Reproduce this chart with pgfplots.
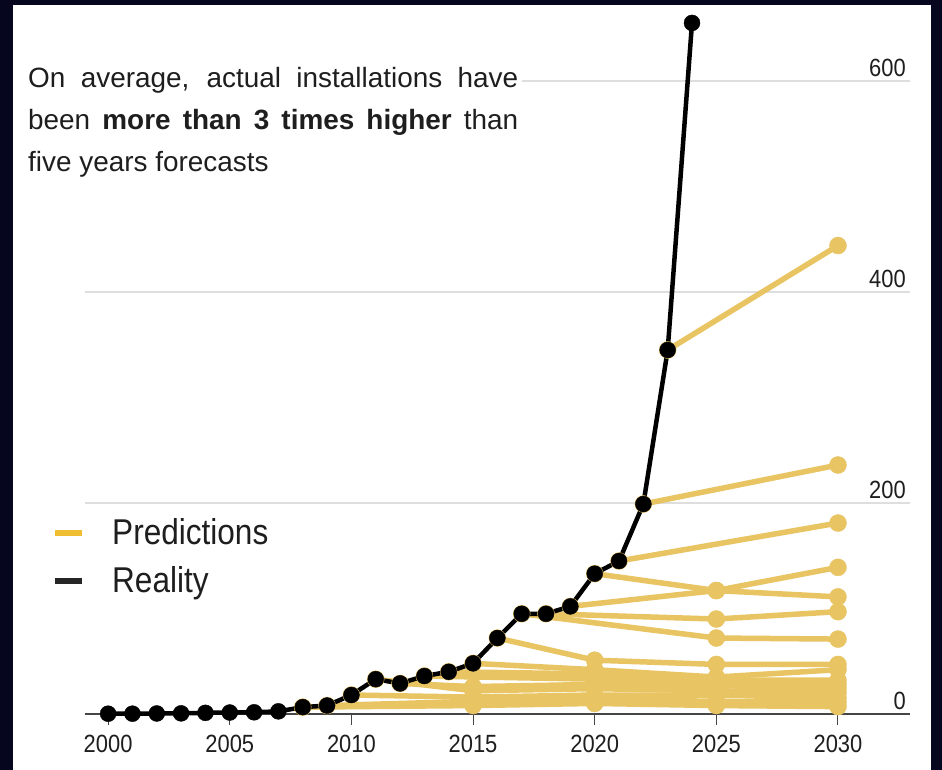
\documentclass[border=0pt]{standalone}
\usepackage{pgfplots}
\pgfplotsset{compat=1.18}
\usepackage{fontspec}
\setmainfont{Liberation Sans}
\newfontfamily\narrowsans[FakeStretch=0.88]{Liberation Sans}
\definecolor{frame}{RGB}{6,6,30}
\definecolor{predyellow}{RGB}{232,196,98}
\definecolor{legyellow}{RGB}{240,190,50}
\definecolor{axgray}{RGB}{70,70,70}
\definecolor{gridgray}{RGB}{222,222,222}
\definecolor{txt}{RGB}{30,30,30}
\begin{document}
\begin{tikzpicture}
% dark frame round the white chart
\useasboundingbox (0,0) rectangle (942bp,770bp);
\fill[frame] (0,0) rectangle (942bp,770bp);
\fill[white] (13bp,0) rectangle (931bp,765bp);
\begin{axis}[
  scale only axis,
  width=825bp, height=709bp,
  at={(85bp,56bp)}, anchor=south west,
  xmin=1999.05, xmax=2032.96,
  ymin=0, ymax=672,
  clip=false,
  axis x line*=bottom, axis y line*=right,
  separate axis lines,
  x axis line style={draw=axgray, line width=1.2bp},
  y axis line style={draw=none},
  xtick={2000,2005,...,2030},
  xtick align=outside,
  major tick length=11bp,
  xtick style={draw=axgray, line width=1bp},
  ytick={0,200,400,600},
  ytick style={draw=none},
  ymajorgrids,
  grid style={draw=gridgray, line width=1.2bp},
  /pgf/number format/assume math mode=true,
  /pgf/number format/1000 sep={},
  xticklabel style={font=\fontsize{25}{26}\narrowsans, text=txt, inner sep=0pt, yshift=-10bp},
  yticklabel style={font=\fontsize{25}{26}\narrowsans, text=txt, anchor=south east, inner sep=0pt, xshift=-4bp, yshift=4bp},
  legend style={at={(-0.0400,0.2764)}, anchor=north west, draw=none, fill=none,
    inner sep=0pt, font=\fontsize{36}{40}\narrowsans, text=txt, row sep=14bp,
    nodes={inner sep=0pt, text height=26bp, text depth=8bp},
    cells={anchor=west},
    /tikz/every odd column/.append style={column sep=27bp}},
  legend image code/.code={\draw[#1, line width=6bp] (0bp,2bp) -- (27bp,2bp);},
  pred/.style={color=predyellow, line width=5.5bp, mark=*, mark size=8.5bp,
    mark options={line width=0.4bp}, forget plot},
]
\addlegendimage{color=legyellow}
\addlegendentry{Predictions}
\addlegendimage{color=black!85}
\addlegendentry{Reality}

% forecasts, each from the actual value of its year
\addplot[pred] coordinates {(2023,345) (2030,444)};
\addplot[pred] coordinates {(2022,199) (2030,236)};
\addplot[pred] coordinates {(2021,145) (2030,181)};
\addplot[pred] coordinates {(2020,133) (2025,117) (2030,111)};
\addplot[pred] coordinates {(2019,102) (2025,117) (2030,139)};
\addplot[pred] coordinates {(2018,95) (2025,90) (2030,97)};
\addplot[pred] coordinates {(2017,95) (2025,72) (2030,71)};
\addplot[pred] coordinates {(2016,72) (2020,51) (2025,47) (2030,47)};
\addplot[pred] coordinates {(2015,48) (2020,42) (2025,35) (2030,42)};
\addplot[pred] coordinates {(2014,40) (2020,38) (2025,32) (2030,32)};
\addplot[pred] coordinates {(2013,36) (2020,33) (2025,30) (2030,28)};
\addplot[pred] coordinates {(2012,29) (2015,26) (2020,28) (2025,27) (2030,24)};
\addplot[pred] coordinates {(2011,33) (2015,22) (2020,24) (2025,22) (2030,20)};
\addplot[pred] coordinates {(2010,18) (2015,16) (2020,18) (2025,18) (2030,15)};
\addplot[pred] coordinates {(2009,8) (2015,12) (2020,14) (2025,12) (2030,11)};
\addplot[pred] coordinates {(2008,6.5) (2015,8) (2020,10) (2025,8) (2030,7)};

% actual installations
\addplot[color=black, line width=4.5bp, mark=*, mark size=8bp,
  mark options={line width=0.4bp}, forget plot] coordinates {
  (2000,0.3) (2001,0.3) (2002,0.5) (2003,0.6) (2004,1.1) (2005,1.4)
  (2006,1.6) (2007,2.5) (2008,6.5) (2009,8) (2010,18) (2011,33)
  (2012,29) (2013,36) (2014,40) (2015,48) (2016,72) (2017,95)
  (2018,95) (2019,102) (2020,133) (2021,145) (2022,199) (2023,345)
  (2024,655)
};
\end{axis}
\node[anchor=north west, text width=490bp, align=justify, fill=white,
      inner xsep=4bp, inner ysep=3bp, text=txt,
      font=\fontsize{28}{42}\selectfont] at (24bp,706bp)
  {On average, actual installations have\linebreak
   been \textbf{more than 3 times higher} than\linebreak
   five years forecasts};
\end{tikzpicture}
\end{document}
